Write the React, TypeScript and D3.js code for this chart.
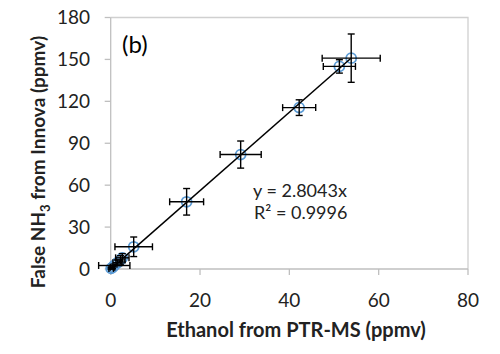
import React from "react";
import * as d3 from "d3";

const ethanol = [0.1, 0.4, 0.8, 1.5, 2.2, 2.6, 5.15, 17.0, 29.1, 42.2, 51.2, 53.85];
const nh3 = [0.4, 1.2, 2.5, 4.5, 6.5, 8.0, 15.9, 48.1, 81.9, 115.5, 145.0, 150.9];
const ethanolErr = [0.5, 0.5, 3.5, 1.0, 1.0, 1.5, 4.2, 3.8, 4.6, 3.7, 3.6, 6.5];
const nh3Err = [0.5, 1.0, 1.0, 2.0, 3.0, 3.0, 7.0, 9.5, 9.7, 5.6, 4.8, 17.3];
const xTicks = [0, 20, 40, 60, 80];
const yTicks = [0, 30, 60, 90, 120, 150, 180];
const slope = 2.8043;
const eqText = "y = 2.8043x";
const r2Text = "R² = 0.9996";
const panelLabel = "(b)";

const W = 500, H = 354;
const FONT = "Lato, 'Open Sans', sans-serif";

export default function App() {
  const x = d3.scaleLinear().domain([0, 80]).range([110.7, 468]);
  const y = d3.scaleLinear().domain([0, 180]).range([269, 17.5]);
  const [x0, x1] = x.range();
  const [yb, yt] = y.range();
  const capX = 3.5, capY = 3.5;
  const xmin = d3.min(ethanol)!, xmax = d3.max(ethanol)!;
  const line = d3.line<number>().x((d) => x(d)).y((d) => y(d * slope));
  return (
    <svg width={W} height={H} style={{ position: "absolute", left: 0, top: 0, background: "#fff" }}>
      <rect x={0} y={0} width={W} height={H} fill="#fff" />
      <path d={`M${x0},${yt}H${x1}V${yb}`} fill="none" stroke="#d0d0d0" strokeWidth={1.3} />
      <line x1={x0} x2={x0} y1={yt} y2={yb} stroke="#bfbfbf" strokeWidth={1.3} />
      <line x1={x0} x2={x1} y1={yb} y2={yb} stroke="#bfbfbf" strokeWidth={1.3} />
      {yTicks.map((t) => (
        <g key={"y" + t}>
          <line x1={x0 - 6} x2={x0} y1={y(t)} y2={y(t)} stroke="#bfbfbf" strokeWidth={1.3} />
          <text x={90} y={y(t)} dy="0.35em" textAnchor="end" fontFamily={FONT} fontSize={19} fill="#222">
            {t}
          </text>
        </g>
      ))}
      {xTicks.map((t) => (
        <g key={"x" + t}>
          <line x1={x(t)} x2={x(t)} y1={yb} y2={yb + 6} stroke="#bfbfbf" strokeWidth={1.3} />
          <text x={x(t)} y={300} dy="0.35em" textAnchor="middle" fontFamily={FONT} fontSize={19} fill="#222">
            {t}
          </text>
        </g>
      ))}
      {ethanol.map((ex, i) => (
        <circle key={"c" + i} cx={x(ex)} cy={y(nh3[i])} r={5} fill="none" stroke="#5b9bd5" strokeWidth={1.8} />
      ))}
      {ethanol.map((ex, i) => {
        const cx = x(ex), cy = y(nh3[i]);
        const xa = x(ex - ethanolErr[i]), xb = x(ex + ethanolErr[i]);
        const ya = y(nh3[i] - nh3Err[i]), yb2 = y(nh3[i] + nh3Err[i]);
        return (
          <g key={"e" + i} stroke="#000" strokeWidth={1.4}>
            <line x1={xa} x2={xb} y1={cy} y2={cy} />
            <line x1={xa} x2={xa} y1={cy - capY} y2={cy + capY} />
            <line x1={xb} x2={xb} y1={cy - capY} y2={cy + capY} />
            <line x1={cx} x2={cx} y1={ya} y2={yb2} />
            <line x1={cx - capX} x2={cx + capX} y1={ya} y2={ya} />
            <line x1={cx - capX} x2={cx + capX} y1={yb2} y2={yb2} />
          </g>
        );
      })}
      <path d={line([xmin, xmax])!} stroke="#000" strokeWidth={1.5} fill="none" />
      <text x={122} y={53} fontFamily={FONT} fontSize={24} fill="#000">{panelLabel}</text>
      <text x={253} y={197} fontFamily={FONT} fontSize={18} fill="#222">{eqText}</text>
      <text x={254} y={219} fontFamily={FONT} fontSize={18} fill="#222">{r2Text}</text>
      <text x={296} y={337} textAnchor="middle" fontFamily={FONT} fontSize={20} fontWeight="bold" fill="#222">
        Ethanol from PTR-MS (ppmv)
      </text>
      <text transform="translate(45,162) rotate(-90)" textAnchor="middle" fontFamily={FONT} fontSize={19} fontWeight="bold" fill="#222">
        False NH<tspan fontSize={13} dy={5}>3</tspan><tspan dy={-5}> from Innova (ppmv)</tspan>
      </text>
    </svg>
  );
}
